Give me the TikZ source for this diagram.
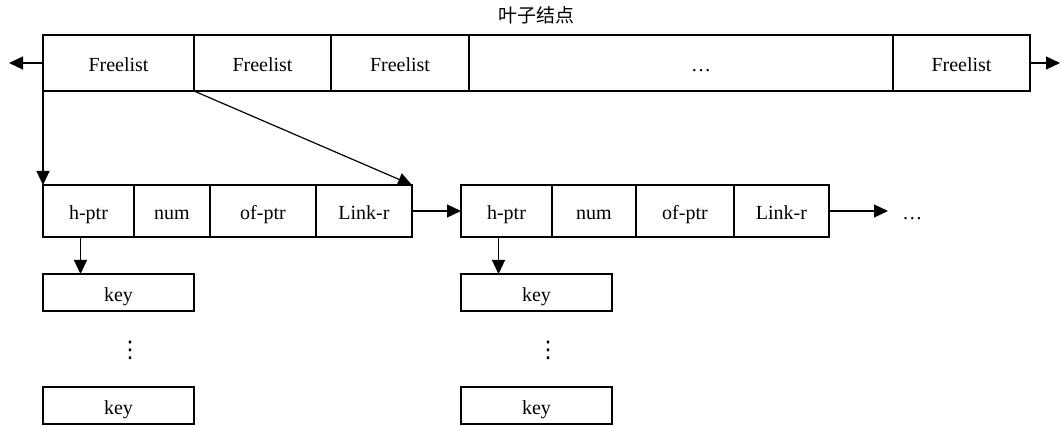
\documentclass[tikz,border=0pt]{standalone}
\usepackage{fontspec}
\setmainfont{Liberation Serif}
\newfontfamily\cjk{Noto Sans CJK SC}
\newfontfamily\symfont{DejaVu Sans}
\usetikzlibrary{positioning,arrows.meta}

\tikzstyle{arrow} = [line width=0.6pt,-{Triangle[length=7pt,width=6.5pt]}]
\tikzstyle{cell} = [
        rectangle,
        draw=black,
        line width=0.6pt,
        outer sep=0pt,
        inner sep=0pt,
        text height=1.9ex,
        text depth=0ex,
        text centered,
        font=\fontsize{10}{12}\selectfont
    ]
\tikzstyle{freecell} = [cell, minimum height=28pt]
\tikzstyle{leafcell} = [cell, minimum height=26pt]
\tikzstyle{keybox} = [cell, minimum width=75.5pt, minimum height=18.5pt]

\begin{document}
\begin{tikzpicture}[x=0.5pt, y=-0.5pt]
        \useasboundingbox (0,0) rectangle (1061,426);

        % leaf node: row of freelists
        \node (title) at (536,15) [font=\fontsize{9.5}{11}\selectfont] {\cjk 叶子结点};
        \node (fl1) at (43,35) [freecell, anchor=north west, minimum width=75.5pt] {Freelist};
        \node (fl2) [freecell, right=0pt of fl1, minimum width=68.5pt] {Freelist};
        \node (fl3) [freecell, right=0pt of fl2, minimum width=69pt] {Freelist};
        \node (fldots) [freecell, right=0pt of fl3, minimum width=212pt] {\hspace{20pt}\dots};
        \node (fl5) [freecell, right=0pt of fldots, minimum width=68.5pt] {Freelist};
        \coordinate (lend) at (9,63);
        \coordinate (rend) at (1060,63);

        % first block
        \node (ha) at (43,185) [leafcell, anchor=north west, minimum width=45.5pt] {h-ptr};
        \node (na) [leafcell, right=0pt of ha, minimum width=38pt] {num};
        \node (oa) [leafcell, right=0pt of na, minimum width=53pt] {of-ptr};
        \node (ra) [leafcell, right=0pt of oa, minimum width=48pt] {Link-r};

        % second block
        \node (hb) at (461,185) [leafcell, anchor=north west, minimum width=45.5pt] {h-ptr};
        \node (nb) [leafcell, right=0pt of hb, minimum width=42pt] {num};
        \node (ob) [leafcell, right=0pt of nb, minimum width=49pt] {of-ptr};
        \node (rb) [leafcell, right=0pt of ob, minimum width=47.5pt] {Link-r};
        \node (more) [right=36.5pt of rb, inner sep=0pt, text height=1.9ex, text depth=0ex,
            font=\fontsize{10}{12}\selectfont] {\dots};

        % keys
        \node (ka1) at (43,274) [keybox, anchor=north west] {key};
        \node (ka2) at (43,387) [keybox, anchor=north west] {key};
        \node (kadots) at (130,350) [font=\fontsize{11.5}{12}\selectfont] {\symfont ⋮};
        \node (kb1) at (461,274) [keybox, anchor=north west] {key};
        \node (kb2) at (461,387) [keybox, anchor=north west] {key};
        \node (kbdots) at (548,350) [font=\fontsize{11.5}{12}\selectfont] {\symfont ⋮};

        \draw [arrow] (fl1.west) -- (lend);
        \draw [arrow] (fl5.east) -- (rend);
        \draw [arrow] (fl1.south west) -- (ha.north west);
        \draw [arrow] (fl1.south east) -- (ra.north east);
        \draw [arrow] (ra.east) -- (hb.west);
        \draw [arrow] (rb.east) -- ([xshift=-7pt]more.west);
        \draw [arrow] ([xshift=-4pt]ha.south) -- ([xshift=-4pt]ha.south |- ka1.north);
        \draw [arrow] ([xshift=-4pt]hb.south) -- ([xshift=-4pt]hb.south |- kb1.north);

    \end{tikzpicture}
\end{document}
